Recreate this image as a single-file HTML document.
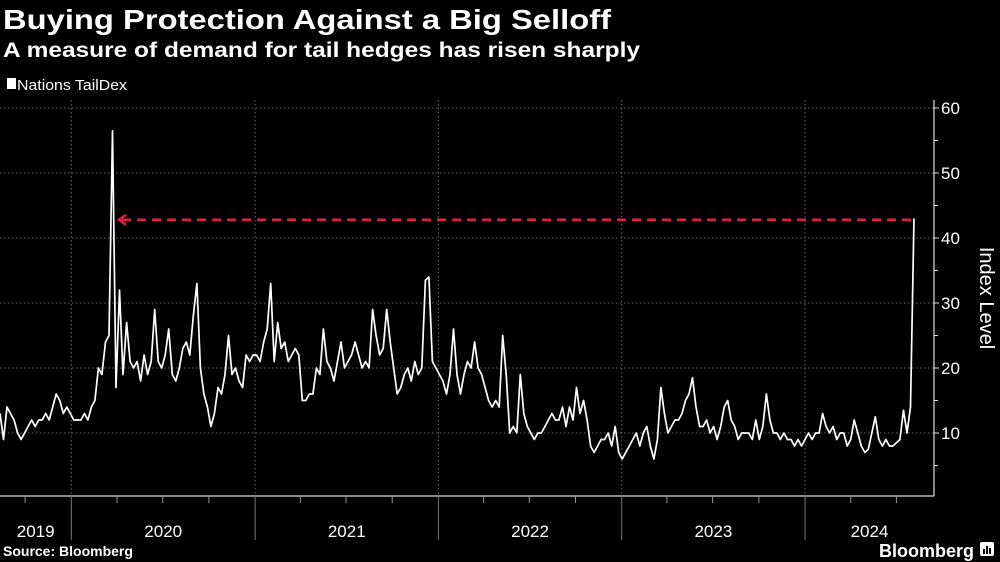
<!DOCTYPE html>
<html><head><meta charset="utf-8">
<style>
html,body{margin:0;padding:0;background:#000;}
svg{display:block;font-family:"Liberation Sans",sans-serif;}
</style></head>
<body>
<svg id="chart" width="1000" height="562" viewBox="0 0 1000 562" xmlns="http://www.w3.org/2000/svg">
<rect x="0" y="0" width="1000" height="562" fill="#000"/>
<text x="3" y="29" fill="#fff" font-size="28" font-weight="bold" textLength="608" lengthAdjust="spacingAndGlyphs">Buying Protection Against a Big Selloff</text>
<text x="3" y="57" fill="#fff" font-size="21" font-weight="bold" textLength="637" lengthAdjust="spacingAndGlyphs">A measure of demand for tail hedges has risen sharply</text>
<g>
<rect x="7" y="78" width="9" height="11" fill="#fff"/>
<text x="17" y="90" fill="#fff" font-size="15" textLength="110" lengthAdjust="spacingAndGlyphs">Nations TailDex</text>
</g>
<g id="grid"></g>
<g id="axes"></g>
<g id="series"></g>
<g id="annot"></g>
<text transform="translate(980,298) rotate(90)" fill="#fff" font-size="20" text-anchor="middle">Index Level</text>
<text x="3" y="556" fill="#fff" font-size="14" font-weight="bold">Source: Bloomberg</text>
<text x="974" y="557" fill="#fff" font-size="18" font-weight="bold" text-anchor="end">Bloomberg</text>
<g>
<rect x="980" y="542" width="14" height="14" rx="2" fill="#fff"/>
<rect x="983" y="549" width="2" height="5" fill="#000"/>
<rect x="986" y="546" width="2" height="8" fill="#000"/>
<rect x="989" y="548" width="2" height="6" fill="#000"/>
</g>
</svg>
<script>
const startDate = "2019-08-12";
const yTicks = [10, 20, 30, 40, 50, 60];
const yearLabels = ["2019", "2020", "2021", "2022", "2023", "2024"];
const annotationLevel = [42.8];
const values = [
13,9,14,13,12,10,9,10,11,12,11,12,12,13,12,14,16,15,13,14,13,
12,12,12,13,12,14,15,20,19,24,25,56.5,17,32,19,27,21,20,21,18,22,19,21,29,21,20,22,26,19,18,20,23,24,22,28,33,20,16,14,11,13,17,16,19,25,19,20,18,17,22,21,22,22,
21,24,26,33,21,27,23,24,21,22,23,22,15,15,16,16,20,19,26,21,20,18,21,24,20,21,22,24,22,20,21,20,29,25,22,23,29,24,20,16,17,19,20,18,21,19,20,
33.5,34,21,20,19,18,16,19,26,19,16,19,21,20,24,20,19,17,15,14,15,14,25,19,10,11,10,19,13,11,10,9,10,10,11,12,13,12,12,14,11,14,12,17,13,15,12,8,7,8,9,9,10,8,11,7,
6,7,8,9,10,8,10,11,8,6,9,17,13,10,11,12,12,13,15,16,18.5,14,11,11,12,10,11,9,11,14,15,12,11,9,10,10,10,9,12,9,11,16,12,10,10,9,10,9,9,8,9,8,
9,10,9,10,10,13,11,10,11,9,10,10,8,9,12,10,8,7,7.5,10,12.5,9,8,9,8,8,8.5,9,13.5,10,14,43
];
const NS = "http://www.w3.org/2000/svg";
const DAY = 86400000;
const t0 = new Date(startDate + "T00:00:00Z").getTime();
const dates = values.map((v, i) => t0 + i * 7 * DAY);
const tMin = t0, tMax = dates[dates.length - 1];
const X0 = 0, X1 = 914;
function xScale(t) { return X0 + (t - tMin) / (tMax - tMin) * (X1 - X0); }
function yScale(v) { return 498 - v * 6.5; }
function mk(tag, attrs, parent) { const e = document.createElementNS(NS, tag); for (const k in attrs) e.setAttribute(k, attrs[k]); parent.appendChild(e); return e; }
const grid = document.getElementById("grid"), axes = document.getElementById("axes"), series = document.getElementById("series"), annot = document.getElementById("annot");
const AX = 934, BOT = 496;
yTicks.forEach(v => {
  const y = yScale(v);
  const g = mk("line", {x1: 0, x2: AX, y1: y, y2: y, stroke: "#6a6a6a", "stroke-width": 1, "stroke-dasharray": "1.5,2.5"}, grid);
  
  
  const tk = mk("line", {x1: AX, x2: AX + 5, y1: y, y2: y, stroke: "#ddd", "stroke-width": 1}, axes);
  
  
  const lb = mk("text", {x: AX + 7, y: y + 6, fill: "#fff", "font-size": 17}, axes);
  lb.textContent = v;
  
  
  const mt = mk("line", {x1: AX, x2: AX + 4, y1: yScale(v - 5), y2: yScale(v - 5), stroke: "#ddd", "stroke-width": 1}, axes);
  
  
});
const ya = mk("line", {x1: AX, x2: AX, y1: 100, y2: BOT, stroke: "#ddd", "stroke-width": 1.2}, axes);


const xa = mk("line", {x1: 0, x2: AX, y1: BOT, y2: BOT, stroke: "#ddd", "stroke-width": 1.2}, axes);


yearLabels.forEach(ys => {
  const yr = +ys;
  const ts = Date.UTC(yr, 0, 1), te = Date.UTC(yr + 1, 0, 1);
  const xs = Math.max(0, xScale(ts)), xe = Math.min(AX, xScale(te));
  if (xScale(ts) > 0) {
    const vg = mk("line", {x1: xs, x2: xs, y1: 100, y2: BOT, stroke: "#6a6a6a", "stroke-width": 1, "stroke-dasharray": "1.5,2.5"}, grid);
    
    
    const sep = mk("line", {x1: xs, x2: xs, y1: BOT, y2: 540, stroke: "#777", "stroke-width": 1}, axes);
    
    
  }
  [3, 6, 9].forEach(m => {
    const xq = xScale(Date.UTC(yr, m, 1));
    if (xq > 0 && xq < AX) {
      const q = mk("line", {x1: xq, x2: xq, y1: BOT, y2: BOT + 7, stroke: "#999", "stroke-width": 1}, axes);
      
      
    }
  });
  const lb = mk("text", {x: (xs + xe) / 2, y: 537, fill: "#fff", "font-size": 17, "text-anchor": "middle"}, axes);
  lb.textContent = ys;
  
  
});
const d = values.map((v, i) => (i ? "L" : "M") + xScale(dates[i]).toFixed(1) + "," + yScale(v).toFixed(1)).join("");
const line = mk("path", {d: d, fill: "none", stroke: "#fff", "stroke-width": 1.7, "stroke-linejoin": "round"}, series);


const ay = yScale(annotationLevel[0]);
const dash = mk("line", {x1: 122, x2: xScale(tMax), y1: ay, y2: ay, stroke: "#e0203f", "stroke-width": 2.5, "stroke-dasharray": "9,6"}, annot);


const arr = mk("path", {d: `M126,${ay - 5}L119,${ay}L126,${ay + 5}`, fill: "none", stroke: "#e0203f", "stroke-width": 2.5}, annot);


</script>
</body></html>
